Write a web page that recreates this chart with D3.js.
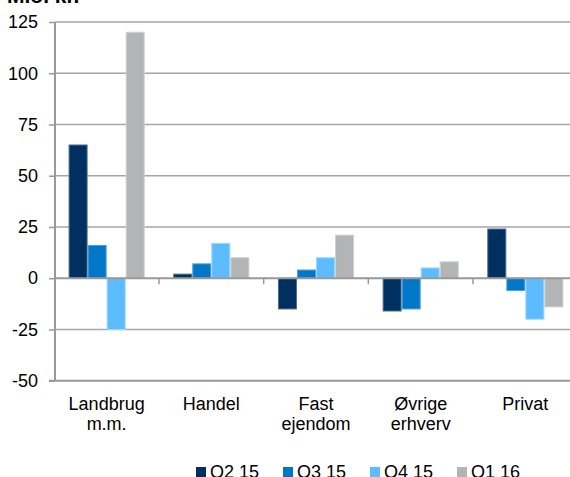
<!DOCTYPE html>
<html><head><meta charset="utf-8">
<script src="https://cdn.jsdelivr.net/npm/d3@7"></script>
<style>body{margin:0;background:#fff}svg{display:block}text{font-family:"Liberation Sans",Arial,sans-serif;fill:#000}</style>
</head><body><svg id="c" width="570" height="477"></svg>
<script>
const categories = [["Landbrug","m.m."],["Handel"],["Fast","ejendom"],["Øvrige","erhverv"],["Privat"]];
const seriesNames = ["Q2 15","Q3 15","Q4 15","Q1 16"];
const q2_15 = [65, 2, -15, -16, 24];
const q3_15 = [16, 7, 4, -15, -6];
const q4_15 = [-25, 17, 10, 5, -20];
const q1_16 = [120, 10, 21, 8, -14];
const yTicks = [-50, -25, 0, 25, 50, 75, 100, 125];
const colors = ["#00305f", "#0077c8", "#5cbcff", "#b3b4b6"];
const strokes = ["#4d6f94", "#4da0d9", "#9dd7ff", "#d0d1d2"];
const seriesValues = [q2_15, q3_15, q4_15, q1_16];

const svg = d3.select("#c");
const catKeys = categories.map(c => c.join(" "));
const x = d3.scaleBand().domain(catKeys).range([54.3, 577.7]).padding(0);
const xs = d3.scaleBand().domain(seriesNames).range([0, x.bandwidth()]).paddingInner(0).paddingOuter(0.75);
const y = d3.scaleLinear().domain([-50, 125]).range([380.7, 22]);

// gridlines
svg.append("g").selectAll("line").data(yTicks.filter(t => t !== 0 && t !== -50)).join("line")
  .attr("x1", 55).attr("x2", 570).attr("y1", d => y(d)).attr("y2", d => y(d))
  .attr("stroke", "#a6a6a6").attr("stroke-width", 1.5);

// bars
const g = svg.append("g");
seriesValues.forEach((vals, si) => {
  g.append("g").selectAll("rect").data(vals).join("rect")
    .attr("x", (d, i) => x(catKeys[i]) + xs(seriesNames[si]) + 0.5)
    .attr("width", xs.bandwidth() - 1)
    .attr("y", d => Math.min(y(d), y(0)))
    .attr("height", d => Math.abs(y(d) - y(0)))
    .attr("fill", colors[si]).attr("stroke", strokes[si]).attr("stroke-width", 1);
});

// y axis
const yAxis = d3.axisLeft(y).tickValues(yTicks).tickSize(6).tickPadding(11).tickFormat(d => String(d));
const ya = svg.append("g").attr("transform", "translate(55,0)").call(yAxis);
ya.select(".domain").attr("stroke", "#999").attr("stroke-width", 2).attr("d", `M0,${y(125)}V${y(-50)}`);
ya.selectAll(".tick line").attr("stroke", "#999").attr("stroke-width", 1.5);
ya.selectAll(".tick text").attr("font-size", 18).attr("font-family", "Liberation Sans, Arial, sans-serif").attr("fill", "#000");

// bottom line at -50
svg.append("line").attr("x1", 49).attr("x2", 570).attr("y1", y(-50)).attr("y2", y(-50))
  .attr("stroke", "#999").attr("stroke-width", 2);

// zero axis with category ticks
svg.append("line").attr("x1", 55).attr("x2", 570).attr("y1", y(0)).attr("y2", y(0))
  .attr("stroke", "#999").attr("stroke-width", 2);
svg.append("g").selectAll("line").data(catKeys.slice(1)).join("line")
  .attr("x1", d => x(d)).attr("x2", d => x(d)).attr("y1", y(0)).attr("y2", y(0) + 6)
  .attr("stroke", "#999").attr("stroke-width", 1.5);

// category labels
const cl = svg.append("g").selectAll("text").data(categories).join("text")
  .attr("text-anchor", "middle").attr("font-size", 18)
  .attr("x", (d, i) => x(catKeys[i]) + x.bandwidth() / 2).attr("y", 410);
cl.selectAll("tspan").data(d => d).join("tspan")
  .attr("x", function() { return d3.select(this.parentNode).attr("x"); })
  .attr("dy", (d, i) => i === 0 ? 0 : 20).text(d => d);

// title
svg.append("text").attr("x", 7).attr("y", 3).attr("font-size", 21).attr("font-weight", "bold").text("Mio. kr.");

// legend
const legX = [196, 283, 370, 457];
const lg = svg.append("g").selectAll("g").data(seriesNames).join("g")
  .attr("transform", (d, i) => `translate(${legX[i]},0)`);
lg.append("rect").attr("x", 0).attr("y", 467).attr("width", 10).attr("height", 10).attr("fill", (d, i) => colors[i]);
lg.append("text").attr("x", 14).attr("y", 478).attr("font-size", 18).text(d => d);
</script></body></html>
